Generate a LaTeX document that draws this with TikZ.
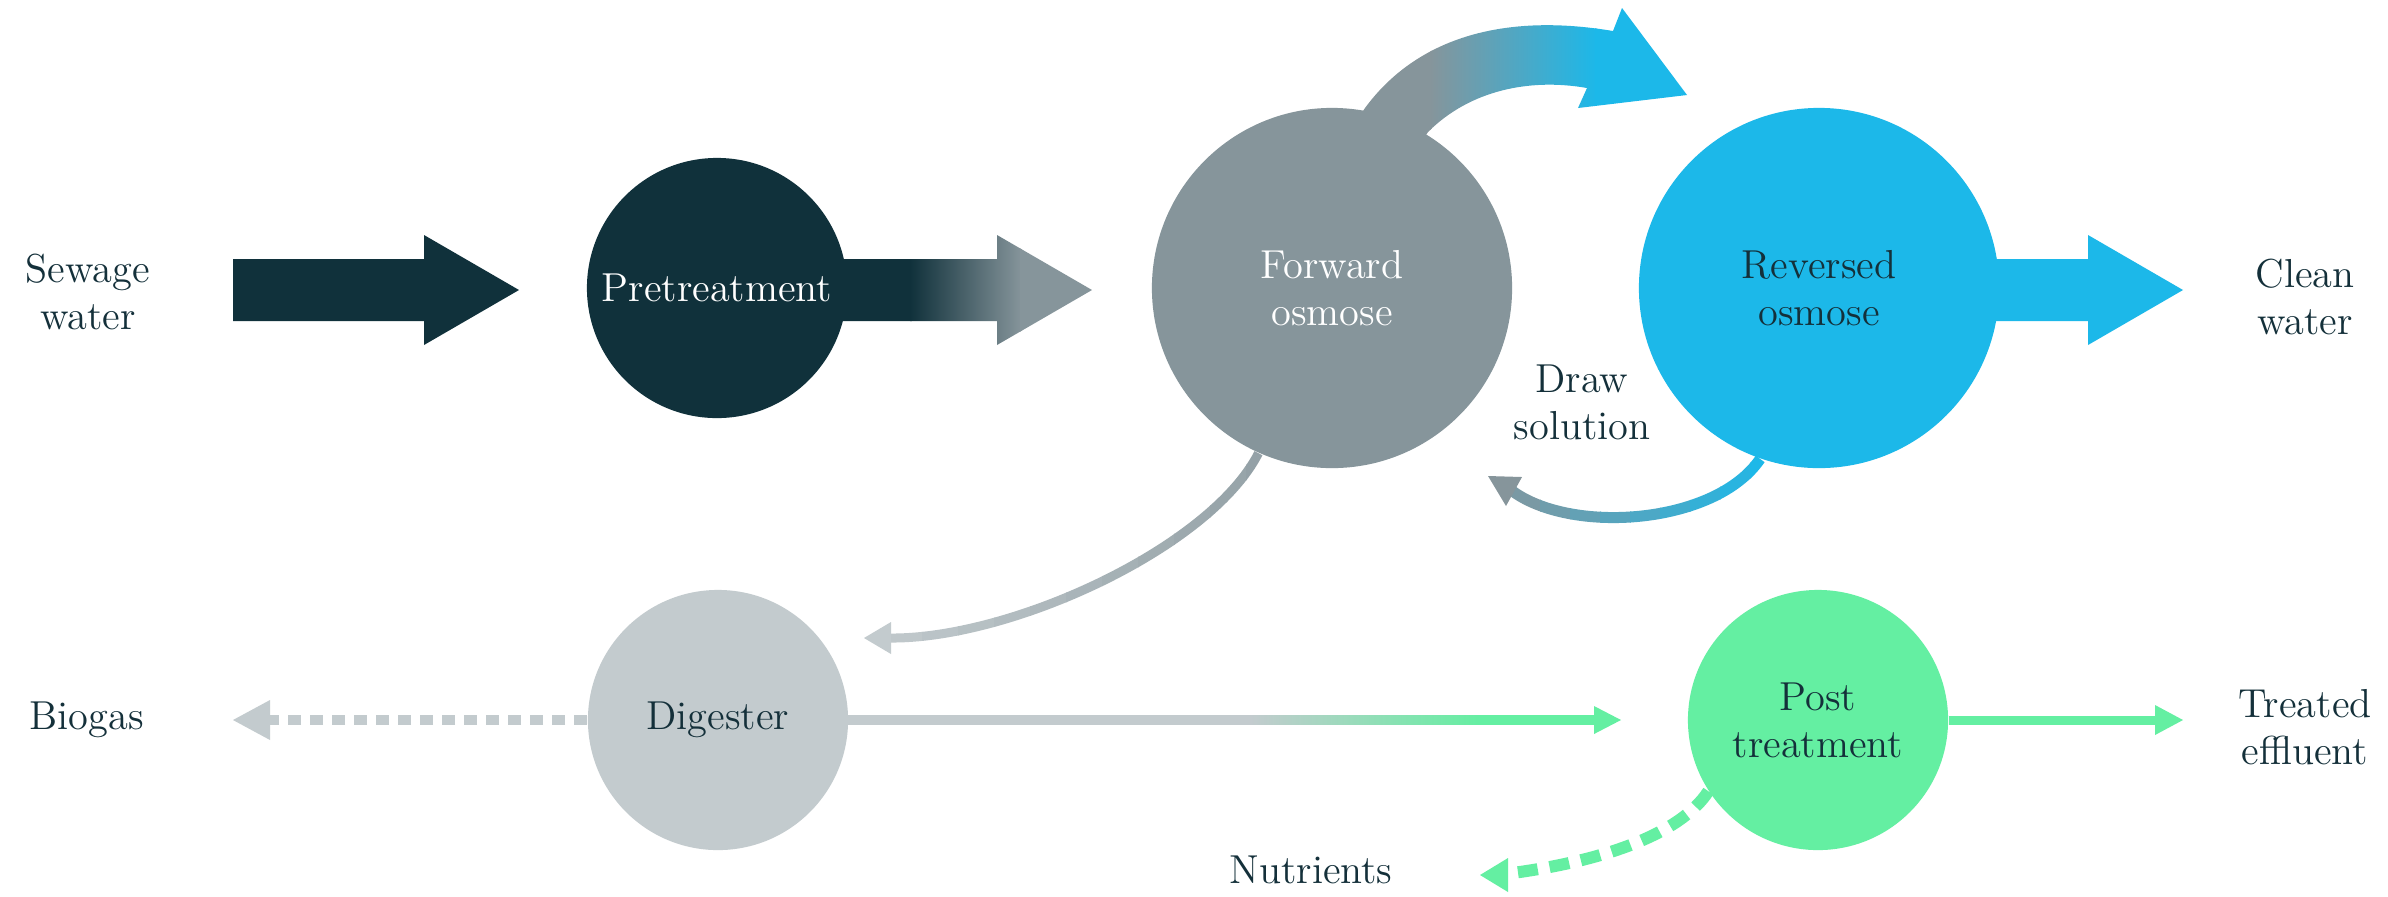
\documentclass[tikz,border=0pt]{standalone}
\usetikzlibrary{calc}
\definecolor{predark}{HTML}{10313B}
\definecolor{fogray}{HTML}{86959B}
\definecolor{roblue}{HTML}{1CB8E9}
\definecolor{digray}{HTML}{C3CBCE}
\definecolor{ptgreen}{HTML}{64EFA2}
\definecolor{textdark}{HTML}{14303A}
\newcommand{\mylabelfont}{\fontsize{11.5}{13.4}\selectfont}
\newcommand{\blockpath}[2]{($(#1)+(0,-31)$) -- ($(#2)+(-95,-31)$) -- ($(#2)+(-95,-55)$) -- (#2) -- ($(#2)+(-95,55)$) -- ($(#2)+(-95,31)$) -- ($(#1)+(0,31)$) -- cycle}
\begin{document}
\begin{tikzpicture}[x=0.01cm,y=-0.01cm,
  bubble/.style={circle,inner sep=0pt,minimum size=#1,font=\mylabelfont,align=center},
  lbl/.style={font=\mylabelfont,text=textdark,align=center,inner sep=0pt},
  thinline/.style={line width=0.09cm},
  dashline/.style={line width=0.1cm,dash pattern=on 0.13cm off 0.09cm}]
\useasboundingbox (0,0) rectangle (2388,896);
\fill[white] (0,0) rectangle (2388,896);

% ---- coordinates
\coordinate (a1s) at (233,290);
\coordinate (a1t) at (519,290);
\coordinate (a2s) at (800,290);
\coordinate (a2t) at (1092,290);
\coordinate (a3s) at (1950,290);
\coordinate (a3t) at (2183,290);

% ---- block arrows
\fill[predark] \blockpath{a1s}{a1t};
\begin{scope}
  \clip \blockpath{a2s}{a2t};
  \fill[predark] (790,200) rectangle (912,380);
  \shade[left color=predark,right color=fogray] (910,200) rectangle (1022,380);
  \fill[fogray] (1020,200) rectangle (1100,380);
\end{scope}
\fill[roblue] \blockpath{a3s}{a3t};

% ---- curved arrow from forward osmose
\begin{scope}
  \clip (1330,160) -- (1365,108) .. controls (1415,40) and (1500,12) .. (1613,31)
        -- (1622,8) -- (1687,95) -- (1578,108) -- (1587,88)
        .. controls (1530,78) and (1470,90) .. (1428,132) -- (1390,190) -- cycle;
  \fill[fogray] (1300,0) rectangle (1432,220);
  \shade[left color=fogray,right color=roblue] (1430,0) rectangle (1597,220);
  \fill[roblue] (1595,0) rectangle (1700,220);
\end{scope}

% ---- circles
\node[bubble=2.6cm,fill=predark,text=white] (pre) at (717,288) {Pretreatment};
\node[bubble=3.6cm,fill=fogray,text=white] (fo) at (1332,288) {Forward\\osmose};
\node[bubble=3.6cm,fill=roblue,text=textdark] (ro) at (1819,288) {Reversed\\osmose};
\node[bubble=2.6cm,fill=digray,text=textdark] (dg) at (718,720) {Digester};
\node[bubble=2.6cm,fill=ptgreen,text=textdark] (pt) at (1818,720) {Post\\treatment};

% ---- labels
\node[lbl] (sew) at (88,292) {Sewage\\water};
\node[lbl] (clean) at (2305,297) {Clean\\water};
\node[lbl] (drs) at (1582,402) {Draw\\solution};
\node[lbl] (bio) at (87,720) {Biogas};
\node[lbl] (eff) at (2305,727) {Treated\\effluent};
\node[lbl] (nut) at (1311,870) {Nutrients};

% ---- forward osmose -> digester
\coordinate (fdbase) at (888,638);
\coordinate (fdtip) at (864,638);
\foreach \i in {0,...,11} {
  \pgfmathsetmacro{\xa}{850+\i*36}
  \pgfmathsetmacro{\pc}{\i*7}
  \begin{scope}
    \clip (\xa,430) rectangle (\xa+37,680);
    \draw[thinline,draw=fogray!\pc!digray] (fo.-114) .. controls (1210,548) and (1010,640) .. (fdbase);
  \end{scope}
}
\fill[digray] (fdtip) -- ++(27,-16) -- ++(0,32) -- cycle;

% ---- draw solution: reversed osmose -> forward osmose
\coordinate (dsbase) at (1511,490);
\coordinate (dstip) at (1488,476);
\foreach \i in {0,...,9} {
  \pgfmathsetmacro{\xa}{1480+\i*30}
  \pgfmathsetmacro{\pc}{\i*11}
  \begin{scope}
    \clip (\xa,440) rectangle (\xa+31,560);
    \draw[line width=0.11cm,draw=roblue!\pc!fogray] (ro.-109) .. controls (1715,525) and (1570,535) .. (dsbase);
  \end{scope}
}
\fill[fogray] (dstip) -- (1522,477) -- (1506,506) -- cycle;

% ---- digester -> post treatment
\coordinate (dpbase) at (1596,720);
\coordinate (dptip) at (1621,720);
\begin{scope}
  \clip ($(dg.east)+(-5,-4.5)$) rectangle ($(dpbase)+(0,4.5)$);
  \fill[digray] (840,700) rectangle (1252,740);
  \shade[left color=digray,right color=ptgreen] (1250,700) rectangle (1482,740);
  \fill[ptgreen] (1480,700) rectangle (1600,740);
\end{scope}
\fill[ptgreen] (dptip) -- ++(-27,-14) -- ++(0,28) -- cycle;

% ---- post treatment -> treated effluent
\coordinate (pebase) at (2158,720);
\coordinate (petip) at (2183,720);
\draw[thinline,ptgreen] (pt.east) -- (pebase);
\fill[ptgreen] (petip) -- ++(-28,-15) -- ++(0,30) -- cycle;

% ---- digester -> biogas (dashed)
\coordinate (bgbase) at (268,720);
\coordinate (bgtip) at (233,720);
\draw[dashline,digray] (dg.west) -- (bgbase);
\fill[digray] (bgtip) -- ++(37,-20) -- ++(0,40) -- cycle;

% ---- post treatment -> nutrients (dashed)
\coordinate (nubase) at (1505,874);
\coordinate (nutip) at (1480,875);
\draw[line width=0.12cm,dash pattern=on 0.2cm off 0.12cm,ptgreen] (pt.-147) .. controls (1680,835) and (1600,862) .. (nubase);
\fill[ptgreen] (nutip) -- ++(28,-17) -- ++(0,34) -- cycle;
\end{tikzpicture}
\end{document}
